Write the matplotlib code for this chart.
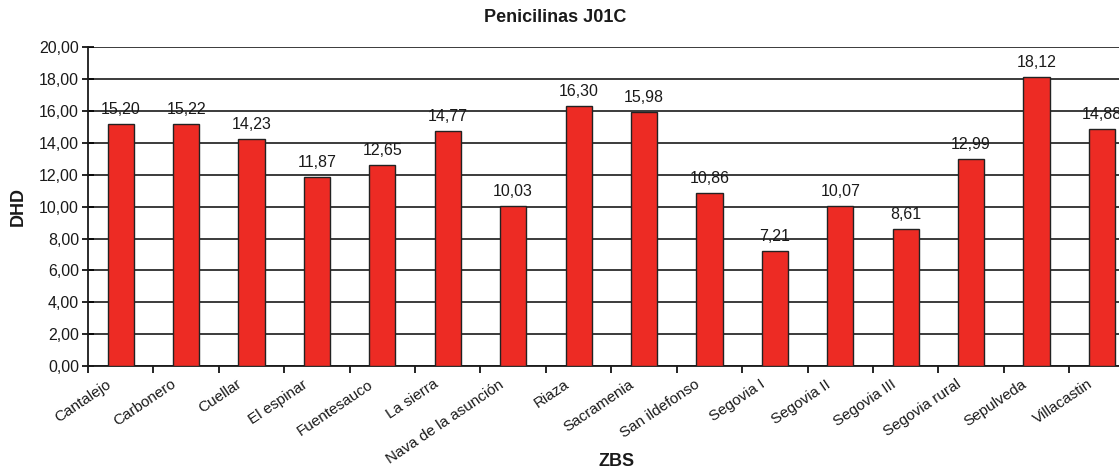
import matplotlib
matplotlib.use('Agg')
import matplotlib.pyplot as plt
import matplotlib.transforms as mtransforms
import numpy as np

plt.rcParams['font.family'] = ['Liberation Sans', 'DejaVu Sans']

zbs = ['Cantalejo', 'Carbonero', 'Cuellar', 'El espinar', 'Fuentesauco',
       'La sierra', 'Nava de la asunción', 'Riaza', 'Sacramenia',
       'San ildefonso', 'Segovia I', 'Segovia II', 'Segovia III',
       'Segovia rural', 'Sepulveda', 'Villacastin']
dhd = [15.20, 15.22, 14.23, 11.87, 12.65, 14.77, 10.03, 16.30, 15.98,
       10.86, 7.21, 10.07, 8.61, 12.99, 18.12, 14.88]
yticks = [0, 2, 4, 6, 8, 10, 12, 14, 16, 18, 20]

fig = plt.figure(figsize=(11.19, 4.72), dpi=100)
W, H = 1119, 472
# axes run past the right edge of the figure, as in the reference
ax = fig.add_axes([88 / W, (H - 366) / H, 1046.6 / W, (366 - 47.5) / H])

x = np.arange(len(zbs))
ax.set_axisbelow(True)
ax.yaxis.grid(True, color='#1a1a1a', linewidth=1.2)
ax.bar(x, dhd, width=0.4, color='#ED2B24', edgecolor='#222222', linewidth=1.0, zorder=3)

for xi, v in zip(x, dhd):
    ax.annotate(f'{v:.2f}'.replace('.', ','), (xi, v), xytext=(0, 5),
                textcoords='offset points', ha='center', va='bottom',
                fontsize=11.5, color='#1a1a1a')

ax.set_xlim(-0.5, len(zbs) - 0.5)
ax.set_ylim(0, 20)
ax.set_yticks(yticks)
ax.set_yticklabels([f'{t:.2f}'.replace('.', ',') for t in yticks], fontsize=11.5, color='#1a1a1a')
ax.tick_params(axis='y', direction='inout', length=9, width=1.2, pad=2)

ax.set_xticks(x)
ax.set_xticklabels(zbs, rotation=34, ha='right', rotation_mode='anchor',
                   fontsize=11, color='#1a1a1a')
ax.tick_params(axis='x', which='major', length=0, pad=8)
ax.set_xticks(np.arange(len(zbs) + 1) - 0.5, minor=True)
ax.tick_params(axis='x', which='minor', direction='out', length=5, width=1.2)
offset = mtransforms.ScaledTranslation(-15 / 100, 0, fig.dpi_scale_trans)
for lab in ax.get_xticklabels():
    lab.set_transform(lab.get_transform() + offset)

for side in ['left', 'bottom']:
    ax.spines[side].set_linewidth(1.3)
    ax.spines[side].set_color('#1a1a1a')
ax.spines['top'].set_visible(False)
ax.spines['right'].set_visible(False)

fig.text(555 / W, 1 - 18 / H, 'Penicilinas J01C', ha='center', va='center',
         fontsize=13, fontweight='bold', color='#1a1a1a')
fig.text(617 / W, 1 - 462 / H, 'ZBS', ha='center', va='center',
         fontsize=13, fontweight='bold', color='#1a1a1a')
fig.text(18 / W, 1 - 207 / H, 'DHD', ha='center', va='center', rotation=90,
         fontsize=13, fontweight='bold', color='#1a1a1a')

fig.savefig('out.png', dpi=100)
